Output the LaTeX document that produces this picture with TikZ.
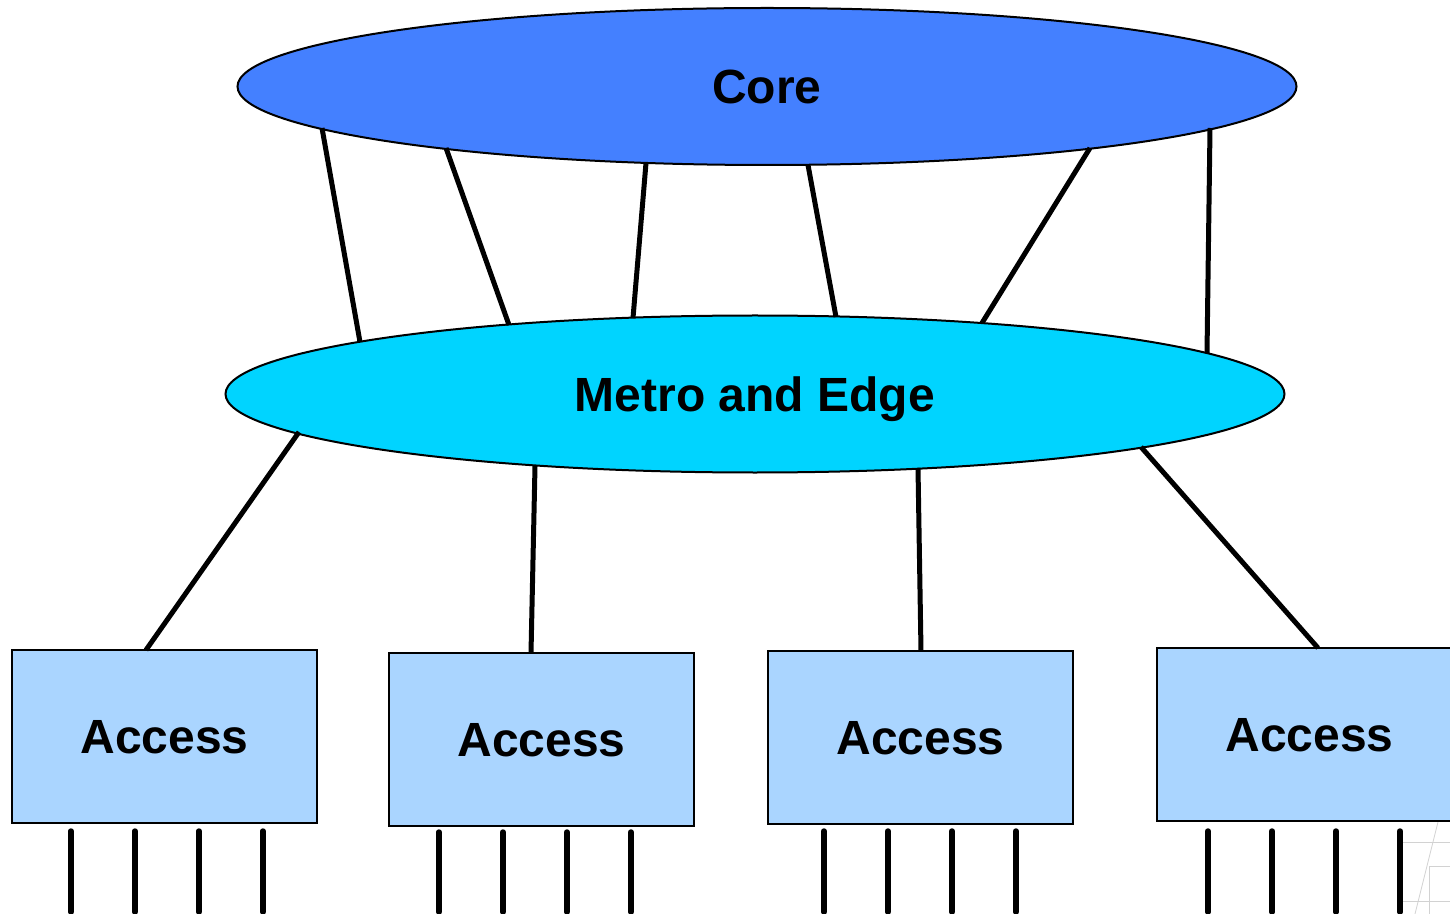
\documentclass[tikz,border=0pt]{standalone}
\usepackage{fontspec}
\setmainfont{Liberation Sans}
\usetikzlibrary{shapes.geometric,calc}
\definecolor{corec}{RGB}{68,128,255}
\definecolor{metroc}{RGB}{0,212,255}
\definecolor{accessc}{RGB}{170,213,255}
\begin{document}
\begin{tikzpicture}[x=0.5pt,y=-0.5pt,
  cloud/.style={ellipse, draw=black, line width=1pt, inner sep=0pt, outer sep=0pt,
    minimum width=529.5pt, minimum height=78.5pt,
    font=\fontsize{24}{28}\selectfont\bfseries, text depth=0pt},
  accessbox/.style={rectangle, draw=black, line width=1.1pt, fill=accessc, inner sep=0pt, outer sep=0pt,
    minimum width=152.5pt, minimum height=86.5pt,
    font=\fontsize{24}{28}\selectfont\bfseries, text depth=0pt},
  link/.style={line width=2.5pt, black},
  stub/.style={line width=2.7pt, black, line cap=round},
  faint/.style={line width=0.4pt, gray!35}]
\useasboundingbox (0,0) rectangle (1450,914);
\fill[white] (0,0) rectangle (1450,914);
% faint background artifacts
\draw[faint] (1403,842) -- (1450,842);
\draw[faint] (1429,866) -- (1450,866);
\draw[faint] (1403,901) -- (1450,901);
\draw[faint] (1429,866) -- (1429,914);
\draw[faint] (1438,822) -- (1415,914);
% nodes
\node[cloud, fill=corec] (core) at (767,86.5) {Core};
\node[cloud, fill=metroc] (metro) at (755,394) {Metro and Edge};
\node[accessbox] (a1) at (164.5,736.5) {Access};
\node[accessbox] (a2) at (541.5,739.5) {Access};
\node[accessbox] (a3) at (920.5,737.5) {Access};
\node[accessbox] (a4) at (1309.5,734.5) {Access};
% core to metro
\draw[link] ($(core)+(-445,41.5)$) -- ($(metro)+(-395,-52)$);
\draw[link] ($(core)+(-321,61.5)$) -- ($(metro)+(-246,-69)$);
\draw[link] ($(core)+(-121,76.5)$) -- ($(metro)+(-122,-76)$);
\draw[link] ($(core)+(41,78.5)$) -- ($(metro)+(81,-77)$);
\draw[link] ($(core)+(323,61.5)$) -- ($(metro)+(227,-71)$);
\draw[link] ($(core)+(443,41.5)$) -- ($(metro)+(452,-41)$);
% metro to access
\draw[link] ($(metro)+(-456,38)$) -- ([xshift=-9.25pt]a1.north);
\draw[link] ($(metro)+(-220,72)$) -- ([xshift=-5.25pt]a2.north);
\draw[link] ($(metro)+(163,74)$) -- ([xshift=0.25pt]a3.north);
\draw[link] ($(metro)+(386,53)$) -- ([xshift=4.25pt]a4.north);
% stubs
\foreach \x in {71,135,199,263} \draw[stub] (\x,831) -- (\x,912);
\foreach \x in {439,503,567,631} \draw[stub] (\x,832) -- (\x,912);
\foreach \x in {824,888,952,1016} \draw[stub] (\x,831) -- (\x,912);
\foreach \x in {1208,1272,1336,1400} \draw[stub] (\x,831) -- (\x,912);
\end{tikzpicture}
\end{document}
